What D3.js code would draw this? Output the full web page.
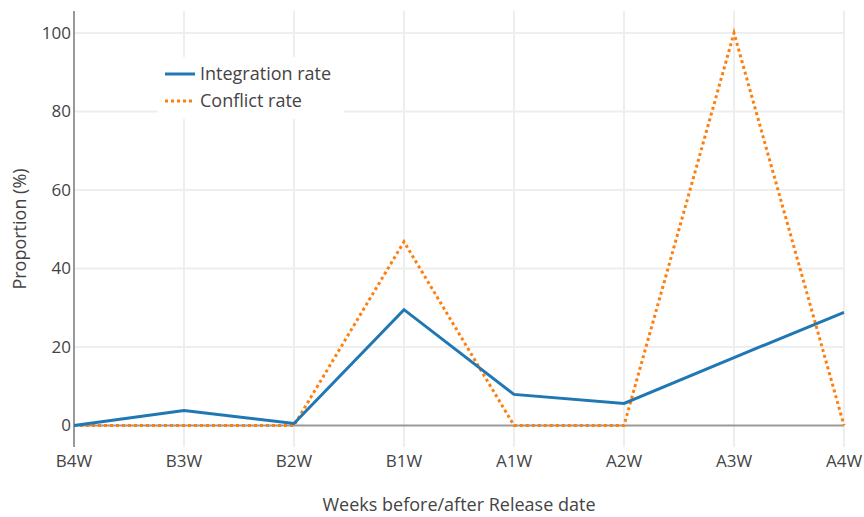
<!DOCTYPE html>
<html>
<head>
<meta charset="utf-8">
<script src="https://cdn.jsdelivr.net/npm/d3@7"></script>
<style>
  body { margin: 0; background: #fff; }
  svg text { font-family: "Open Sans", sans-serif; fill: #444; }
</style>
</head>
<body>
<div id="chart"></div>
<script>
// data
var weeks = ["B4W", "B3W", "B2W", "B1W", "A1W", "A2W", "A3W", "A4W"];
var integrationRate = [0, 3.8, 0.5, 29.5, 7.9, 5.6, 17.3, 28.8];
var conflictRate = [0, 0, 0, 46.8, 0, 0, 100, 0];
var yTicks = [0, 20, 40, 60, 80, 100];

var width = 864, height = 517;
var margin = {top: 11, right: 20, bottom: 70, left: 74};

var svg = d3.select("#chart").append("svg")
  .attr("width", width)
  .attr("height", height);

var x = d3.scalePoint()
  .domain(weeks)
  .range([margin.left, width - margin.right]);

var y = d3.scaleLinear()
  .domain([-5.5, 105.6])
  .range([height - margin.bottom, margin.top]);

// grid lines
svg.append("g").selectAll("line.v")
  .data(weeks)
  .enter().append("line")
  .attr("x1", d => x(d)).attr("x2", d => x(d))
  .attr("y1", margin.top).attr("y2", height - margin.bottom)
  .attr("stroke", "#eee").attr("stroke-width", 2);

svg.append("g").selectAll("line.h")
  .data(yTicks.filter(d => d !== 0))
  .enter().append("line")
  .attr("x1", margin.left).attr("x2", width - margin.right)
  .attr("y1", d => y(d)).attr("y2", d => y(d))
  .attr("stroke", "#eee").attr("stroke-width", 2);

// zero line
svg.append("line")
  .attr("x1", margin.left).attr("x2", width - margin.right)
  .attr("y1", y(0)).attr("y2", y(0))
  .attr("stroke", "#999").attr("stroke-width", 2);

// y axis line
svg.append("line")
  .attr("x1", margin.left).attr("x2", margin.left)
  .attr("y1", margin.top).attr("y2", height - margin.bottom)
  .attr("stroke", "#444").attr("stroke-width", 1);

// tick labels
svg.append("g").selectAll("text")
  .data(yTicks)
  .enter().append("text")
  .attr("x", margin.left - 3)
  .attr("y", d => y(d))
  .attr("dy", "0.35em")
  .attr("text-anchor", "end")
  .style("font-size", "17px")
  .text(d => d);

svg.append("g").selectAll("text")
  .data(weeks)
  .enter().append("text")
  .attr("x", d => x(d))
  .attr("y", height - margin.bottom + 20)
  .attr("text-anchor", "middle")
  .style("font-size", "17px")
  .text(d => d);

// axis titles
svg.append("text")
  .attr("x", (margin.left + width - margin.right) / 2)
  .attr("y", 511)
  .attr("text-anchor", "middle")
  .style("font-size", "18px")
  .text("Weeks before/after Release date");

svg.append("text")
  .attr("transform", "translate(26," + ((margin.top + height - margin.bottom) / 2) + ") rotate(-90)")
  .attr("text-anchor", "middle")
  .style("font-size", "18px")
  .text("Proportion (%)");

// lines
var line = d3.line()
  .x((d, i) => x(weeks[i]))
  .y(d => y(d));

svg.append("path")
  .datum(conflictRate)
  .attr("d", line)
  .attr("fill", "none")
  .attr("stroke", "#ff7f0e")
  .attr("stroke-width", 3)
  .attr("stroke-dasharray", "3,3");

svg.append("path")
  .datum(integrationRate)
  .attr("d", line)
  .attr("fill", "none")
  .attr("stroke", "#1f77b4")
  .attr("stroke-width", 3);

// legend
var legend = svg.append("g").attr("transform", "translate(158,57)");
legend.append("rect")
  .attr("width", 186).attr("height", 62)
  .attr("fill", "#fff");

var legendItems = [
  {name: "Integration rate", color: "#1f77b4", dash: null},
  {name: "Conflict rate", color: "#ff7f0e", dash: "3,3"}
];

legendItems.forEach(function(item, i) {
  var yy = 17 + i * 27;
  legend.append("line")
    .attr("x1", 7).attr("x2", 37)
    .attr("y1", yy).attr("y2", yy)
    .attr("stroke", item.color)
    .attr("stroke-width", 3)
    .attr("stroke-dasharray", item.dash);
  legend.append("text")
    .attr("x", 42).attr("y", yy)
    .attr("dy", "0.35em")
    .style("font-size", "18px")
    .text(item.name);
});
</script>
</body>
</html>
